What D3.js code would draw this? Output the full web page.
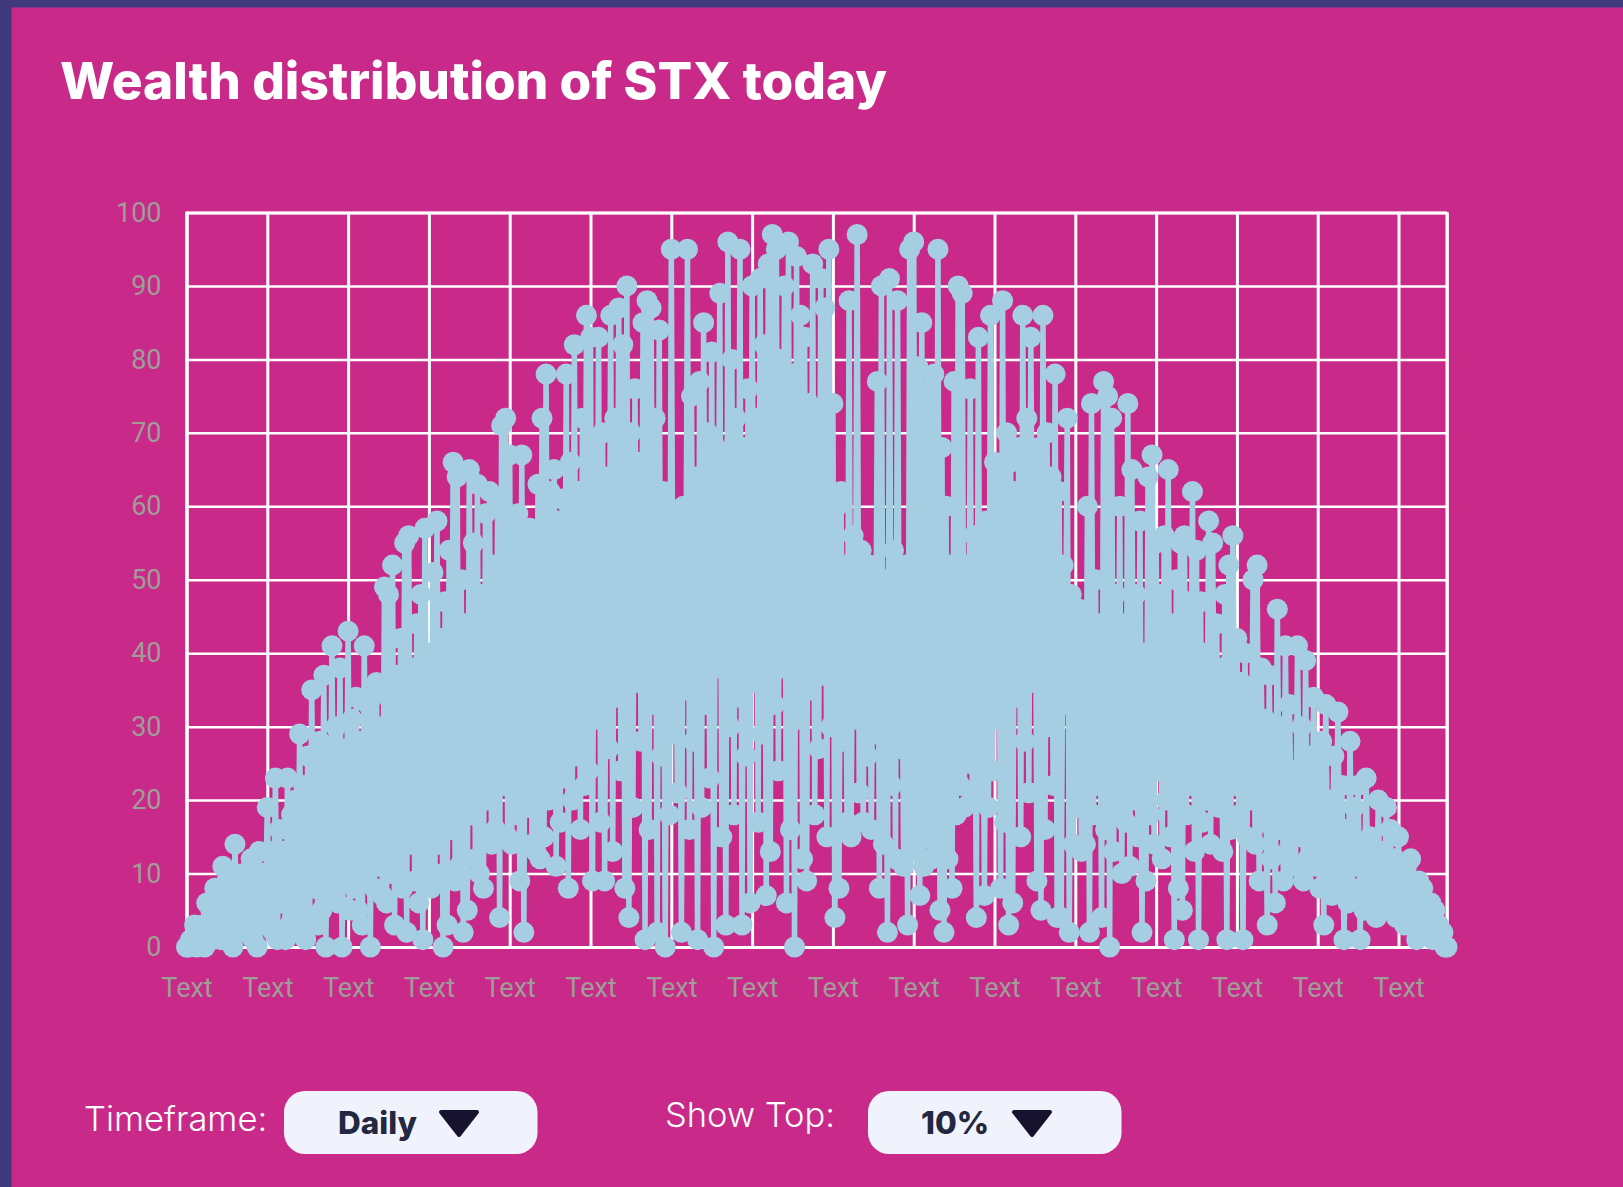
<!DOCTYPE html>
<html>
<head>
<meta charset="utf-8">
<script src="https://cdn.jsdelivr.net/npm/d3@7/dist/d3.min.js"></script>
<style>
  html, body { margin: 0; padding: 0; background: #c92a8a; }
  svg { display: block; }
  .axis text { font-family: Roboto, sans-serif; font-size: 27px; fill: #a09c98; }
  .axis line, .axis path { stroke: #fff; }
</style>
</head>
<body>
<div id="chart"></div>
<script>
// holders per sample (peak, trough, peak, trough ...), one row per x tick
const holders = [
  0,0, 1,1, 3,0, 2,1, 3,0, 6,2, 5,1, 8,3, 6,1, 11,4, 9,2, 10,0, 14,3, 8,5, 10,2, 7,4, 12,1, 9,0, 13,3, 10,5,
  19,4, 13,2, 23,1, 16,6, 13,1, 23,3, 18,5, 20,2, 29,7, 22,1, 26,4, 35,8, 24,3, 28,5, 37,0, 26,9, 41,7, 30,6, 38,0, 27,10,
  43,5, 31,8, 34,5, 28,3, 41,9, 33,0, 34,8, 36,11, 30,7, 49,6, 48,10, 52,3, 37,12, 42,8, 55,2, 56,14, 38,9, 44,6, 48,1, 57,12,
  40,8, 51,10, 58,14, 42,0, 47,3, 54,16, 66,9, 64,11, 50,2, 44,5, 65,18, 55,12, 63,10, 48,8, 59,20, 62,14, 52,16, 60,4, 71,22, 72,15,
  67,14, 58,18, 59,9, 67,2, 56,19, 57,14, 54,13, 63,12, 72,15, 78,20, 62,22, 65,11, 58,17, 61,23, 78,8, 66,20, 82,26, 62,16, 72,22, 86,24,
  83,9, 68,31, 83,17, 70,9, 64,27, 86,13, 72,34, 87,24, 82,8, 90,4, 70,19, 76,36, 66,28, 85,1, 88,16, 87,33, 72,2, 84,26, 62,0, 60,18,
  95,29, 58,21, 56,2, 60,35, 95,16, 75,28, 64,1, 77,19, 85,33, 70,23, 81,0, 68,38, 89,15, 66,3, 96,30, 80,18, 72,34, 95,3, 68,26, 76,6,
  90,36, 72,17, 91,29, 82,7, 93,13, 97,33, 95,24, 80,38, 90,6, 96,16, 78,0, 94,31, 86,12, 83,9, 74,35, 93,18, 72,27, 91,37, 87,15, 95,30,
  74,4, 60,8, 62,28, 52,17, 88,15, 56,31, 97,21, 54,17, 50,26, 52,16, 48,29, 77,8, 90,14, 50,2, 91,22, 54,12, 88,27, 50,11, 52,3, 95,13,
  96,14, 79,7, 85,11, 74,16, 76,12, 78,14, 95,5, 68,2, 60,12, 52,8, 77,18, 90,22, 89,19, 52,25, 76,20, 56,4, 83,20, 54,7, 58,19, 86,24,
  66,31, 64,8, 88,17, 70,3, 66,6, 62,34, 68,15, 86,28, 72,21, 83,36, 66,9, 68,5, 86,16, 70,30, 64,22, 78,4, 62,4, 52,33, 72,2, 48,14,
  44,19, 46,13, 42,14, 60,2, 74,18, 50,22, 44,4, 77,16, 75,0, 72,13, 48,19, 60,10, 44,17, 74,11, 65,20, 48,15, 58,2, 40,9, 64,18, 67,14,
  55,24, 48,12, 56,20, 65,15, 44,1, 50,8, 55,5, 56,18, 47,22, 62,13, 54,1, 47,17, 40,20, 58,14, 55,21, 44,19, 38,13, 48,1, 52,16, 56,22,
  42,18, 36,1, 40,15, 34,20, 50,14, 52,9, 38,17, 31,3, 37,12, 28,6, 46,16, 30,9, 41,13, 33,17, 24,11, 41,15, 30,9, 39,12, 26,14, 34,11,
  25,8, 28,3, 33,10, 20,7, 26,12, 32,9, 22,1, 16,6, 28,8, 19,11, 22,1, 14,5, 23,7, 15,9, 12,4, 20,6, 13,8, 19,5, 16,7, 12,4,
  15,5, 9,3, 11,6, 12,4, 8,1, 9,3, 8,2, 5,3, 6,1, 5,2, 3,1, 2,0, 0
];
const yTicks = [0, 10, 20, 30, 40, 50, 60, 70, 80, 90, 100];
const xTickEvery = 40; // samples between two "Text" labels
const xTickLabel = "Text";
const titleText = "Wealth distribution of STX today";
const controls = [
  { label: "Timeframe:", value: "Daily" },
  { label: "Show Top:", value: "10%" }
];

const margin = { top: 212.5, right: 176, bottom: 240, left: 186.5 };
const W = 1623, H = 1187;
const width = W - margin.left - margin.right;
const height = H - margin.top - margin.bottom;

const svg = d3.select("#chart").append("svg").attr("width", W).attr("height", H);

// page frame
svg.append("rect").attr("width", W).attr("height", H).attr("fill", "#403a7c");
svg.append("rect").attr("x", 11.5).attr("y", 7.5).attr("width", W).attr("height", H).attr("fill", "#c92a8a");

svg.append("text")
  .attr("x", 60).attr("y", 99)
  .attr("font-family", "Inter, sans-serif")
  .attr("font-weight", 800)
  .attr("font-size", 51.3)
  .attr("fill", "#fff")
  .text(titleText);

const chart = svg.append("g").attr("transform", `translate(${margin.left},${margin.top})`);

const x = d3.scalePoint().domain(d3.range(holders.length)).range([0, width]);
const y = d3.scaleLinear().domain([0, 100]).range([height, 0]);

const yAxis = chart.append("g").attr("class", "axis")
  .call(d3.axisLeft(y).tickValues(yTicks).tickSize(-width).tickPadding(25));
yAxis.selectAll("line").attr("stroke-width", 2.5);
yAxis.select(".domain").attr("stroke-width", 3);

const xAxis = chart.append("g").attr("class", "axis")
  .attr("transform", `translate(0,${height})`)
  .call(d3.axisBottom(x)
    .tickValues(x.domain().filter(d => d % xTickEvery === 0))
    .tickFormat(() => xTickLabel)
    .tickSize(-height).tickPadding(31));
xAxis.selectAll("line").attr("stroke-width", 3);
xAxis.select(".domain").attr("stroke-width", 2.5);

// right edge of the plot
chart.append("line")
  .attr("x1", width).attr("x2", width)
  .attr("y1", 0).attr("y2", height)
  .attr("stroke", "#fff").attr("stroke-width", 3);

const line = d3.line().x((d, i) => x(i)).y(d => y(d));

chart.append("path")
  .datum(holders)
  .attr("fill", "none")
  .attr("stroke", "#a6cee3")
  .attr("stroke-width", 5.5)
  .attr("d", line);

chart.selectAll(".dot")
  .data(holders)
  .join("circle")
  .attr("class", "dot")
  .attr("cx", (d, i) => x(i))
  .attr("cy", d => y(d))
  .attr("r", 10.5)
  .attr("fill", "#a6cee3");

// dropdowns under the chart
const ctrlPos = [
  { lx: 84, ly: 1131, bx: 284, tx: 338, ax: 459 },
  { lx: 665, ly: 1127, bx: 868, tx: 921, ax: 1032 }
];
controls.forEach((c, i) => {
  const p = ctrlPos[i];
  svg.append("text")
    .attr("x", p.lx).attr("y", p.ly)
    .attr("font-family", "Inter, sans-serif")
    .attr("font-weight", 300)
    .attr("font-size", 34.5)
    .attr("fill", "#fff")
    .text(c.label);
  svg.append("rect")
    .attr("x", p.bx).attr("y", 1091)
    .attr("width", 253.5).attr("height", 63)
    .attr("rx", 21)
    .attr("fill", "#f0f3fb");
  svg.append("text")
    .attr("x", p.tx).attr("y", 1134)
    .attr("font-family", "Inter, sans-serif")
    .attr("font-weight", 800)
    .attr("font-size", 31.5)
    .attr("fill", "#232740")
    .text(c.value);
  svg.append("path")
    .attr("d", `M${p.ax - 18},1112 L${p.ax + 18},1112 L${p.ax},1135 Z`)
    .attr("fill", "#17122e")
    .attr("stroke", "#17122e")
    .attr("stroke-width", 4)
    .attr("stroke-linejoin", "round");
});
</script>
</body>
</html>
